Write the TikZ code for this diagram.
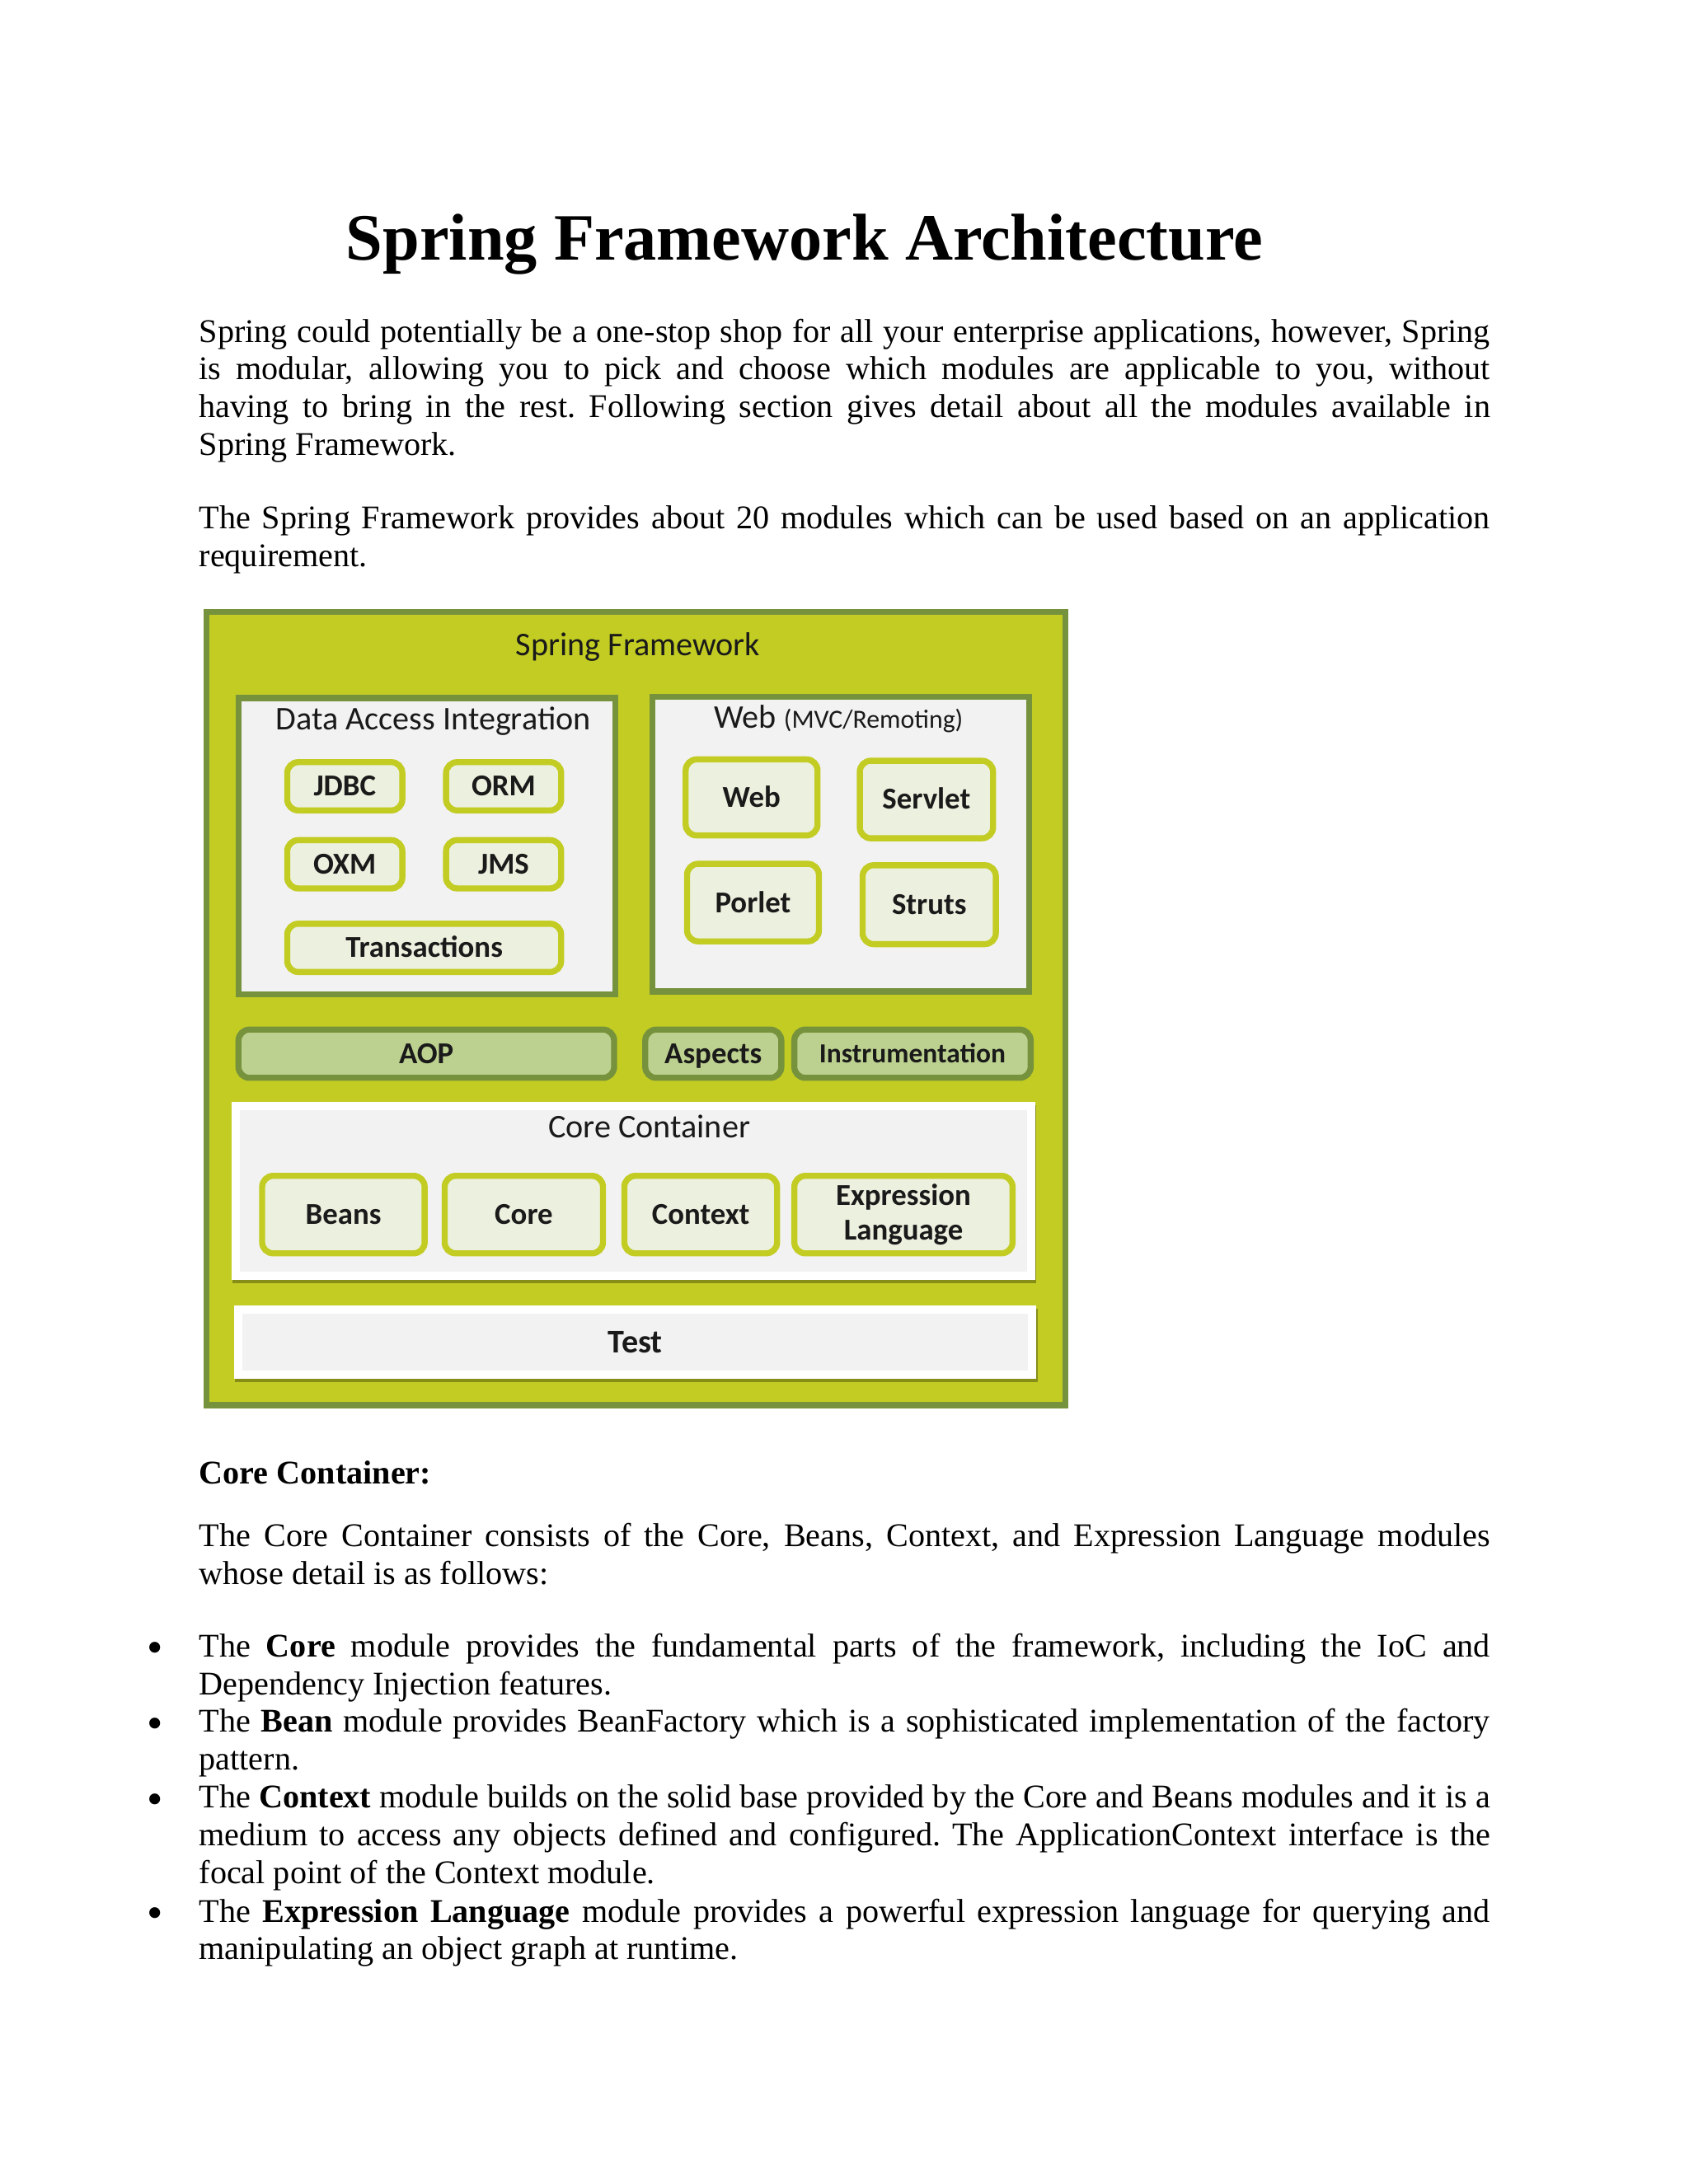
\documentclass[tikz,border=0pt]{standalone}
\usepackage{fontspec}
\setmainfont{Liberation Serif}
\newfontfamily\calibri{Carlito}
\usetikzlibrary{shadows}
\definecolor{limeg}{HTML}{C2CC23}
\definecolor{oliveg}{HTML}{76923C}
\definecolor{panelgray}{HTML}{F2F2F2}
\definecolor{modfill}{HTML}{ECF0DE}
\definecolor{aopfill}{HTML}{BCD18F}
\definecolor{dtext}{HTML}{1A1A1A}
\newcommand\JL[1]{\hbox to 468pt{\frenchspacing\spaceskip=3pt plus 8pt minus 0.6pt\relax #1}}
\newcommand\LL[1]{\hbox{\frenchspacing #1}}
\frenchspacing
\begin{document}
\begin{tikzpicture}[x=0.505pt,y=-0.505pt,
  every node/.style={inner sep=0pt,outer sep=0pt},
  bodytxt/.style={anchor=base west,font=\fontsize{12}{13.7}\selectfont},
  bul/.style={anchor=base,font=\fontsize{16.5}{16}\selectfont},
  sz/.style 2 args={minimum width={#1*0.505pt-2.2pt},minimum height={#2*0.505pt-2.2pt}},
  wsz/.style 2 args={minimum width={#1*0.505pt},minimum height={#2*0.505pt}},
  fwframe/.style={draw=oliveg,line width=2.2pt,fill=limeg},
  panel/.style={draw=oliveg,line width=2.2pt,fill=panelgray},
  lbl/.style={anchor=base,font=\calibri\fontsize{12}{14}\selectfont,text=dtext},
  module/.style={draw=limeg,line width=2.2pt,fill=modfill,rounded corners=4pt,
    font=\calibri\bfseries\fontsize{11}{12.6}\selectfont,text=dtext,text height=7.1pt,text depth=0pt},
  moduletwo/.style={draw=limeg,line width=2.2pt,fill=modfill,rounded corners=4pt,
    font=\calibri\bfseries\fontsize{11}{12.6}\selectfont,text=dtext,align=center},
  aopbox/.style={draw=oliveg,line width=2.2pt,fill=aopfill,rounded corners=4pt,
    font=\calibri\bfseries\fontsize{11}{12.6}\selectfont,text=dtext,text height=7.1pt,text depth=0pt},
  whitebox/.style={fill=white,drop shadow={shadow xshift=0.4pt,shadow yshift=-1.2pt,opacity=0.3,fill=black}},
  innergray/.style={fill=panelgray}
]
\useasboundingbox[fill=white] (0,0) rectangle (1212,1568);

% Title and intro
\node[anchor=base,font=\bfseries\fontsize{24}{28}\selectfont] (title) at (577.5,186.4) {Spring Framework Architecture};
\node[bodytxt] (p1) at (143,245.6) {\vtop{%
\JL{Spring could potentially be a one-stop shop for all your enterprise applications, however, Spring}
\JL{is modular, allowing you to pick and choose which modules are applicable to you, without}
\JL{having to bring in the rest. Following section gives detail about all the modules available in}
\LL{Spring Framework.}}};
\node[bodytxt] (p2) at (143,379.7) {\vtop{%
\JL{The Spring Framework provides about 20 modules which can be used based on an application}
\LL{requirement.}}};

% Diagram
\node[fwframe,sz={621}{574}] (fw) at (456.5,724) {};
\node[lbl] (fwl) at (458,470.5) {Spring Framework};

\node[panel,sz={275}{217}] (dai) at (306.5,607.5) {};
\node[lbl] (dail) at (311,523.7) {Data Access Integration};
\node[module,sz={87}{39}] (jdbc) at (247.5,564.5) {JDBC};
\node[module,sz={87}{39}] (orm) at (361.5,564.5) {ORM};
\node[module,sz={87}{39}] (oxm) at (247.5,620.5) {OXM};
\node[module,sz={87}{39}] (jms) at (361.5,620.5) {JMS};
\node[module,sz={201}{39}] (trans) at (304.5,680.5) {Transactions};

\node[panel,sz={275}{216}] (webp) at (603.5,606) {};
\node[lbl] (webl) at (602,522.7) {Web {\fontsize{9.5}{11}\selectfont (MVC/Remoting)}};
\node[module,sz={99}{59}] (web) at (539.5,572.5) {Web};
\node[module,sz={100}{60}] (servlet) at (665,574) {Servlet};
\node[module,sz={99}{60}] (porlet) at (540.5,648) {Porlet};
\node[module,sz={100}{61}] (struts) at (667,649.5) {Struts};

\node[aopbox,sz={274}{39}] (aop) at (306,756.5) {AOP};
\node[aopbox,sz={102}{39}] (aspects) at (512,756.5) {Aspects};
\node[aopbox,sz={174}{39},font=\calibri\bfseries\fontsize{10}{12}\selectfont,text height=6.44pt] (instr) at (655,756.5) {Instrumentation};

\node[whitebox,wsz={577}{128}] (cc) at (454.5,855) {};
\node[innergray,wsz={565}{116}] (ccin) at (cc.center) {};
\node[lbl] (ccl) at (466,816.7) {Core Container};
\node[module,sz={121}{60}] (beans) at (246.5,872) {Beans};
\node[module,sz={118}{60}] (core) at (376,872) {Core};
\node[module,sz={114}{60}] (context) at (503,872) {Context};
\node[moduletwo,sz={161}{60}] (expr) at (648.5,872) {Expression\\Language};

\node[whitebox,wsz={576}{53}] (test) at (456,963.5) {};
\node[innergray,wsz={564}{41}] (testin) at (test.center) {};
\node[font=\calibri\bfseries\fontsize{12}{14}\selectfont,text=dtext,text height=7.7pt,text depth=0pt] (testl) at (test.center) {Test};

% Core container text
\node[bodytxt,font=\bfseries\fontsize{12}{13.7}\selectfont] (cch) at (143,1065.2) {Core Container:};
\node[bodytxt] (p3) at (143,1110.6) {\vtop{%
\JL{The Core Container consists of the Core, Beans, Context, and Expression Language modules}
\LL{whose detail is as follows:}}};

\node[bodytxt] (b1) at (143,1189.5) {\vtop{%
\JL{The \textbf{Core} module provides the fundamental parts of the framework, including the IoC and}
\LL{Dependency Injection features.}}};
\node[bodytxt] (b2) at (143,1243.7) {\vtop{%
\JL{The \textbf{Bean} module provides BeanFactory which is a sophisticated implementation of the factory}
\LL{pattern.}}};
\node[bodytxt] (b3) at (143,1298) {\vtop{%
\JL{The \textbf{Context} module builds on the solid base provided by the Core and Beans modules and it is a}
\JL{medium to access any objects defined and configured. The ApplicationContext interface is the}
\LL{focal point of the Context module.}}};
\node[bodytxt] (b4) at (143,1379.9) {\vtop{%
\JL{The \textbf{Expression Language} module provides a powerful expression language for querying and}
\LL{manipulating an object graph at runtime.}}};

\node[bul] (d1) at (111.5,1194) {\textbullet};
\node[bul] (d2) at (111.5,1248.2) {\textbullet};
\node[bul] (d3) at (111.5,1302.5) {\textbullet};
\node[bul] (d4) at (111.5,1384.4) {\textbullet};
\end{tikzpicture}
\end{document}
